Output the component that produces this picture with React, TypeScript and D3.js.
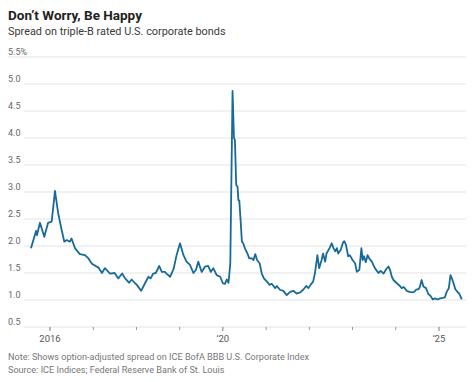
import React from "react";
import * as d3 from "d3";

const dates: string[] = [
  "2015-07-24","2015-09-06","2015-09-13","2015-10-08","2015-11-14","2015-12-16","2016-01-15","2016-01-29","2016-02-12","2016-03-10",
  "2016-04-08","2016-05-01","2016-05-22","2016-06-17","2016-07-01","2016-07-30","2016-09-09","2016-10-23","2016-11-21","2016-12-20",
  "2017-02-14","2017-03-15","2017-04-09","2017-05-23","2017-07-01","2017-07-31","2017-09-02","2017-09-27","2017-10-30","2017-11-21",
  "2017-12-20","2018-01-04","2018-02-09","2018-03-14","2018-04-12","2018-05-01","2018-05-22","2018-06-13","2018-07-12","2018-08-03",
  "2018-08-29","2018-09-12","2018-10-12","2018-11-10","2018-12-06","2019-01-04","2019-02-02","2019-02-28","2019-03-29","2019-04-27",
  "2019-05-19","2019-06-07","2019-07-06","2019-08-04","2019-08-30","2019-09-21","2019-10-12","2019-11-10","2019-12-10","2020-01-01",
  "2020-01-19","2020-02-03","2020-02-18","2020-03-04","2020-03-23","2020-04-04","2020-04-12","2020-04-23","2020-05-04","2020-05-11",
  "2020-05-19","2020-05-30","2020-06-10","2020-06-21","2020-07-05","2020-07-27","2020-08-11","2020-09-02","2020-09-16","2020-10-01",
  "2020-10-16","2020-11-07","2020-11-25","2020-12-13","2021-01-08","2021-01-30","2021-02-17","2021-03-04","2021-03-18","2021-04-01",
  "2021-04-27","2021-05-26","2021-06-24","2021-07-23","2021-08-18","2021-09-16","2021-10-16","2021-11-10","2021-12-06","2021-12-24",
  "2022-01-11","2022-02-02","2022-02-17","2022-03-10","2022-03-25","2022-04-16","2022-04-27","2022-05-15","2022-05-26","2022-06-21",
  "2022-07-09","2022-07-24","2022-08-08","2022-08-22","2022-09-02","2022-09-24","2022-10-12","2022-10-23","2022-11-07","2022-11-25",
  "2022-12-09","2023-01-01","2023-01-23","2023-02-06","2023-02-28","2023-03-17","2023-03-28","2023-04-08","2023-04-23","2023-05-08",
  "2023-05-22","2023-06-13","2023-07-09","2023-08-08","2023-08-26","2023-09-21","2023-10-12","2023-10-31","2023-11-14","2023-11-29",
  "2023-12-13","2024-01-11","2024-02-06","2024-02-20","2024-03-09","2024-04-04","2024-04-26","2024-05-15","2024-06-06","2024-06-21",
  "2024-07-12","2024-07-23","2024-08-07","2024-08-22","2024-09-13","2024-10-01","2024-10-23","2024-11-10","2024-11-28","2024-12-20",
  "2025-01-11","2025-02-02","2025-02-20","2025-03-07","2025-03-25","2025-04-08","2025-04-20","2025-05-04","2025-05-19","2025-06-06",
  "2025-06-21","2025-07-12"
];

const spreads: number[] = [
  1.96,2.28,2.20,2.43,2.17,2.43,2.45,2.73,3.02,2.61,
  2.30,2.08,2.11,2.08,2.14,1.96,1.85,1.83,1.77,1.67,
  1.60,1.50,1.59,1.49,1.50,1.40,1.49,1.40,1.32,1.38,
  1.31,1.28,1.17,1.31,1.43,1.40,1.49,1.50,1.63,1.52,
  1.52,1.49,1.43,1.57,1.83,2.05,1.83,1.71,1.65,1.50,
  1.56,1.71,1.52,1.62,1.63,1.52,1.59,1.46,1.43,1.31,
  1.30,1.38,1.32,1.68,4.87,4.00,3.96,3.13,3.10,2.85,
  2.84,2.48,2.08,2.05,1.96,1.86,1.77,1.77,1.74,1.85,
  1.74,1.68,1.49,1.40,1.34,1.28,1.30,1.26,1.22,1.26,
  1.19,1.17,1.09,1.15,1.17,1.12,1.14,1.19,1.26,1.22,
  1.28,1.34,1.49,1.83,1.59,1.75,1.86,1.71,1.86,1.96,
  2.05,1.96,1.90,1.96,1.86,1.93,2.06,2.09,2.02,1.81,
  1.83,1.74,1.68,1.52,1.56,1.96,1.74,1.81,1.70,1.83,
  1.77,1.71,1.59,1.50,1.54,1.49,1.57,1.62,1.56,1.43,
  1.37,1.31,1.26,1.22,1.24,1.17,1.15,1.14,1.15,1.19,
  1.20,1.24,1.37,1.25,1.22,1.12,1.07,1.01,1.03,1.01,
  1.03,1.04,1.05,1.15,1.22,1.46,1.40,1.31,1.20,1.15,
  1.12,1.01
];

const yTicks: number[] = [0.5, 1.0, 1.5, 2.0, 2.5, 3.0, 3.5, 4.0, 4.5, 5.0, 5.5];
const xTickYears: number[] = [2016, 2017, 2018, 2019, 2020, 2021, 2022, 2023, 2024, 2025];
const xLabelYears: Record<number, string> = { 2016: "2016", 2020: "\u201920", 2025: "\u201925" };

const title = "Don\u2019t Worry, Be Happy";
const subtitle = "Spread on triple-B rated U.S. corporate bonds";
const note = "Note: Shows option-adjusted spread on ICE BofA BBB U.S. Corporate Index";
const source = "Source: ICE Indices; Federal Reserve Bank of St. Louis";

const W = 474;
const H = 382;
const FONT = "Roboto, 'Noto Sans', sans-serif";

export default function App() {
  const parse = d3.timeParse("%Y-%m-%d");
  const data = dates.map((d, i) => ({ date: parse(d) as Date, v: spreads[i] }));

  const x = d3
    .scaleTime()
    .domain([new Date(2016, 0, 1), new Date(2025, 0, 1)])
    .range([50, 439]);
  const y = d3.scaleLinear().domain([0.5, 5.5]).range([327, 57]);

  const line = d3
    .line<{ date: Date; v: number }>()
    .x((d) => x(d.date))
    .y((d) => y(d.v))
    .curve(d3.curveLinear);

  const gridLeft = 24;
  const gridRight = 466;

  return (
    <svg
      width={W}
      height={H}
      style={{ position: "absolute", left: 0, top: 0, background: "#fff" }}
      fontFamily={FONT}
    >
      <text x={8} y={20} fontSize={13.5} fontWeight={700} fill="#222">
        {title}
      </text>
      <text x={8} y={35} fontSize={10.9} fill="#3a3a3a">
        {subtitle}
      </text>

      {yTicks.map((t) => (
        <g key={t}>
          <line
            x1={t === 5.5 ? 8 : gridLeft}
            x2={gridRight}
            y1={y(t)}
            y2={y(t)}
            stroke="#e3e3e3"
            strokeWidth={1}
          />
          <text x={8} y={y(t) - 2} fontSize={9} fill="#666">
            {t === 5.5 ? "5.5%" : d3.format(".1f")(t)}
          </text>
        </g>
      ))}

      {xTickYears.map((yr) => {
        const xx = x(new Date(yr, 0, 1));
        const labeled = xLabelYears[yr] !== undefined;
        return (
          <g key={yr}>
            <line
              x1={xx}
              x2={xx}
              y1={y(0.5)}
              y2={y(0.5) + (labeled ? 4 : 3)}
              stroke={labeled ? "#777" : "#999"}
              strokeWidth={1}
            />
            {labeled && (
              <text x={xx} y={342} fontSize={9.5} fill="#555" textAnchor="middle">
                {xLabelYears[yr]}
              </text>
            )}
          </g>
        );
      })}

      <path d={line(data) || ""} fill="none" stroke="#186a98" strokeWidth={1.8} strokeLinejoin="round" />

      <text x={8} y={360} fontSize={9.1} fill="#777">
        {note}
      </text>
      <text x={8} y={373} fontSize={9.1} fill="#777">
        {source}
      </text>
    </svg>
  );
}
